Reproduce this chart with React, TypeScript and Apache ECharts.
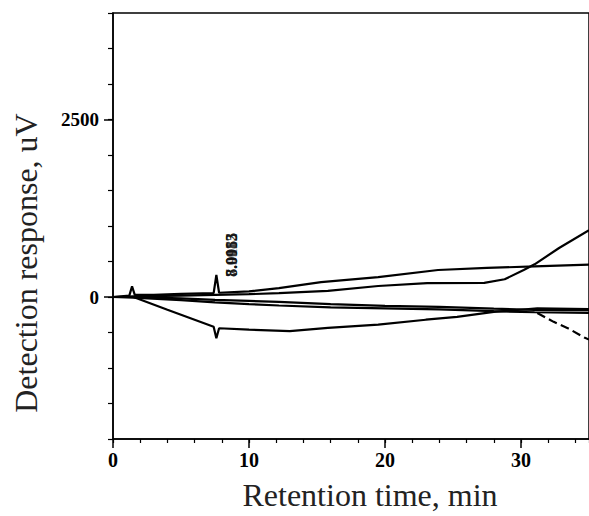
import React, { useEffect, useRef } from "react";
import * as echarts from "echarts";

// Retention time (min) and detection response (uV) for each trace
const timeA = [0, 1.2, 1.4, 1.6, 3, 5, 7.4, 7.6, 7.8, 10, 12.2, 15.3, 19.5, 23.9, 27.5, 31, 35];
const valA = [0, 20, 150, 30, 30, 45, 55, 310, 60, 80, 125, 210, 280, 380, 410, 430, 455];
const timeB = [0, 1.5, 5, 7.5, 10, 12.2, 15.8, 19.5, 23.1, 27.3, 28.8, 30.2, 31, 32.8, 35];
const valB = [0, 10, 20, 30, 40, 55, 85, 155, 195, 200, 250, 380, 460, 690, 940];
const timeC = [0, 1.5, 5, 7.5, 10, 12.2, 16, 20, 24, 28, 31, 35];
const valC = [0, 0, -20, -40, -55, -70, -100, -125, -140, -165, -180, -185];
const timeD = [0, 1.5, 5, 7.5, 10, 12.2, 16, 20, 24, 28, 31, 35];
const valD = [0, -10, -45, -75, -100, -120, -145, -160, -175, -200, -215, -225];
const timeE = [0, 1.5, 4, 7.4, 7.6, 7.8, 10, 13, 15.8, 19.5, 23, 25.3, 28, 31.2, 35];
const valE = [0, 0, -180, -420, -580, -440, -460, -480, -435, -390, -320, -280, -210, -160, -170];
const timeTail = [31.2, 32.4, 33.4, 34.7, 35];
const valTail = [-225, -350, -435, -575, -600];

const peakTime = 8.7;
const peakLevel = 590;
const peakLabels = ["8.0055", "8.0112", "7.9983"];

const xLabelValues = [0, 10, 20, 30];
const yLabelValues = [0, 2500];

const pairs = (t: number[], v: number[]) => t.map((x, i) => [x, v[i]]);

const FONT = "'Liberation Serif', 'Times New Roman', serif";

export default function App() {
  const ref = useRef<HTMLDivElement>(null);
  useEffect(() => {
    if (!ref.current) return;
    const chart = echarts.init(ref.current, null, { renderer: "svg" });
    const lineSeries = (name: string, t: number[], v: number[], dashed = false) => ({
      name,
      type: "line",
      data: pairs(t, v),
      showSymbol: false,
      symbol: "none",
      lineStyle: { color: "#000", width: 2.2, type: dashed ? "dashed" : "solid" },
      silent: true,
    });
    chart.setOption({
      animation: false,
      backgroundColor: "#fff",
      grid: {
        left: 113,
        top: 13,
        width: 479.5,
        height: 426,
        show: true,
        borderColor: "#000",
        borderWidth: 1.5,
        backgroundColor: "transparent",
      },
      xAxis: [
        {
          type: "value",
          min: 0,
          max: 35,
          interval: 2,
          position: "bottom",
          axisLine: { show: true, onZero: false, lineStyle: { color: "#000", width: 1.5 } },
          axisTick: { show: true, length: 4, lineStyle: { color: "#000", width: 1.2 } },
          axisLabel: {
            customValues: xLabelValues,
            formatter: (v: number) => String(v),
            color: "#000",
            fontFamily: FONT,
            fontWeight: "bold",
            fontSize: 20,
            margin: 11,
          },
          splitLine: { show: false },
        },
        {
          type: "value",
          min: 0,
          max: 35,
          position: "bottom",
          axisLine: { show: false, onZero: false },
          axisTick: { show: true, customValues: xLabelValues, length: 9, lineStyle: { color: "#000", width: 1.5 } },
          axisLabel: { show: false },
          splitLine: { show: false },
        },
      ],
      yAxis: [
        {
          type: "value",
          min: -2000,
          max: 4000,
          interval: 500,
          position: "left",
          axisLine: { show: true, onZero: false, lineStyle: { color: "#000", width: 1.5 } },
          axisTick: { show: true, length: 5, lineStyle: { color: "#000", width: 1.2 } },
          axisLabel: {
            customValues: yLabelValues,
            formatter: (v: number) => String(v),
            color: "#000",
            fontFamily: FONT,
            fontWeight: "bold",
            fontSize: 19,
            margin: 14,
          },
          splitLine: { show: false },
        },
        {
          type: "value",
          min: -2000,
          max: 4000,
          position: "left",
          axisLine: { show: false, onZero: false },
          axisTick: { show: true, customValues: yLabelValues, length: 9, lineStyle: { color: "#000", width: 1.5 } },
          axisLabel: { show: false },
          splitLine: { show: false },
        },
      ],
      series: [
        lineSeries("A", timeA, valA),
        lineSeries("B", timeB, valB),
        lineSeries("C", timeC, valC),
        lineSeries("D", timeD, valD),
        lineSeries("E", timeE, valE),
        lineSeries("tail", timeTail, valTail, true),
        {
          name: "peaks",
          type: "scatter",
          symbolSize: 0,
          silent: true,
          data: peakLabels.map((s) => ({ value: [peakTime, peakLevel], name: s })),
          label: {
            show: true,
            position: "inside",
            rotate: 90,
            formatter: (p: any) => p.name,
            color: "#111",
            fontFamily: FONT,
            fontWeight: "bold",
            fontSize: 16,
          },
        },
      ],
      graphic: [
        {
          type: "text",
          x: 370,
          y: 495,
          style: {
            text: "Retention time, min",
            fontFamily: FONT,
            fontSize: 32,
            fill: "#222",
            textAlign: "center",
            textVerticalAlign: "middle",
            align: "center",
            verticalAlign: "middle",
          },
        },
        {
          type: "text",
          x: 26,
          y: 263,
          rotation: Math.PI / 2,
          style: {
            text: "Detection response, uV",
            fontFamily: FONT,
            fontSize: 32,
            fill: "#222",
            textAlign: "center",
            textVerticalAlign: "middle",
            align: "center",
            verticalAlign: "middle",
          },
        },
      ],
    });
    return () => chart.dispose();
  }, []);
  return (
    <div
      ref={ref}
      style={{ position: "absolute", left: 0, top: 0, width: 589, height: 516 }}
    />
  );
}
